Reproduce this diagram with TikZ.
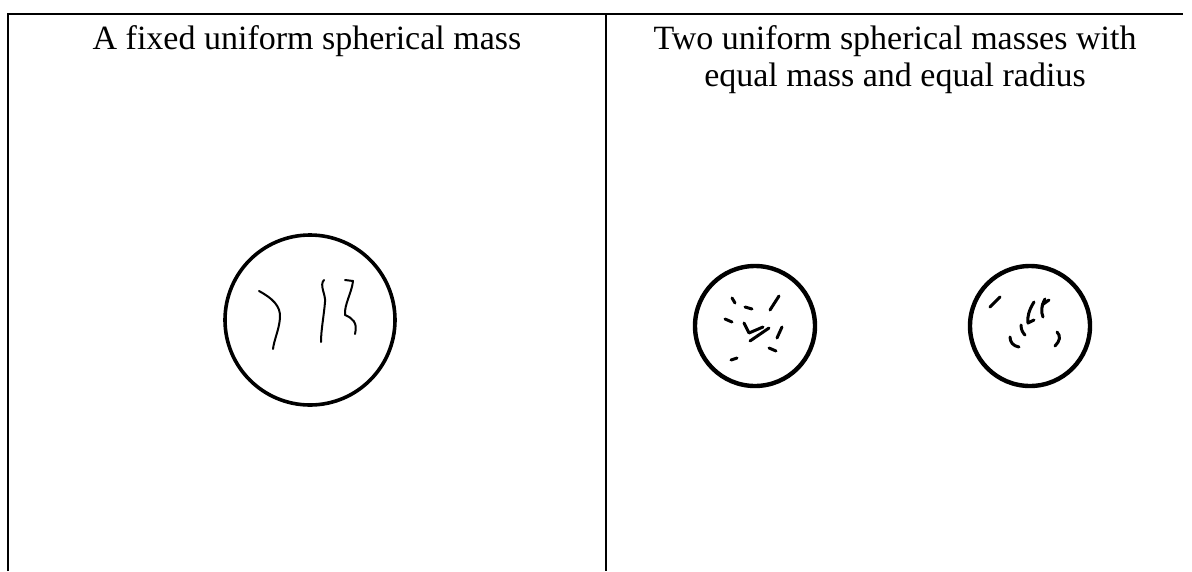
\documentclass[tikz,border=0pt]{standalone}
\usepackage{fontspec}
\setmainfont{Liberation Serif}
\usepackage{tikz}
\usetikzlibrary{positioning}

\begin{document}
\begin{tikzpicture}[x=1pt,y=-1pt,
  rule/.style={line width=2.6pt},
  title/.style={font=\fontsize{34}{37}\selectfont,inner sep=0pt,align=center},
  mass/.style={draw,circle,line width=3.6pt,inner sep=0pt},
  grain/.style={line width=2pt,line cap=round,line join=round},
  dust/.style={line width=3pt,line cap=round,line join=round}]
\useasboundingbox (0,0) rectangle (1192,571);
% table frame
\coordinate (tl) at (8,14);
\coordinate (tr) at (1183,14);
\coordinate (tm) at (606,14);
\coordinate (bl) at (8,571);
\coordinate (bm) at (606,571);
\draw[rule] (bl) -- (tl) -- (tr);
\draw[rule] (tm) -- (bm);
% headings
\node[title,anchor=north] (left head) at (307,25) {A fixed uniform spherical mass};
\node[title,anchor=north] (right head) at (895,25) {Two uniform spherical masses with\\equal mass and equal radius};
% the fixed mass
\node[mass,minimum size=170pt] (fixed) at (310,320) {};
\draw[grain] (259,291) .. controls (272,298) and (281,306) .. (280,318) .. controls (279,330) and (274,340) .. (273,349);
\draw[grain] (324,280) .. controls (319,285) and (326,295) .. (325,302) .. controls (324,315) and (321,330) .. (321,342);
\draw[grain] (345,280) -- (353,281) .. controls (352,292) and (344,305) .. (345,315) .. controls (352,318) and (358,322) .. (355,334);
% the two equal masses
\node[mass,line width=4.4pt,minimum size=120pt] (mass a) at (755,326) {};
\node[mass,line width=4.4pt,minimum size=120pt] (mass b) at (1030,326) {};
\draw[dust] (732,298) -- (735,303);
\draw[dust] (745,307) -- (752,309);
\draw[dust] (779,296) -- (770,310);
\draw[dust] (725,319) -- (732,322);
\draw[dust] (744,323) -- (749,333) -- (763,327);
\draw[dust] (750,341) -- (769,328);
\draw[dust] (782,327) -- (777,338);
\draw[dust] (769,348) -- (776,351);
\draw[dust] (731,360) -- (737,358);
\draw[dust] (1000,297) -- (990,307);
\draw[dust] (1034,302) .. controls (1029,310) and (1027,317) .. (1028,323) -- (1034,320);
\draw[dust] (1045,299) .. controls (1041,306) and (1041,312) .. (1043,317);
\draw[dust] (1049,300) -- (1042,305);
\draw[dust] (1021,325) .. controls (1021,330) and (1023,333) .. (1025,335);
\draw[dust] (1010,337) .. controls (1010,342) and (1013,346) .. (1019,347);
\draw[dust] (1057,332) .. controls (1061,336) and (1060,341) .. (1055,346);
\end{tikzpicture}
\end{document}
